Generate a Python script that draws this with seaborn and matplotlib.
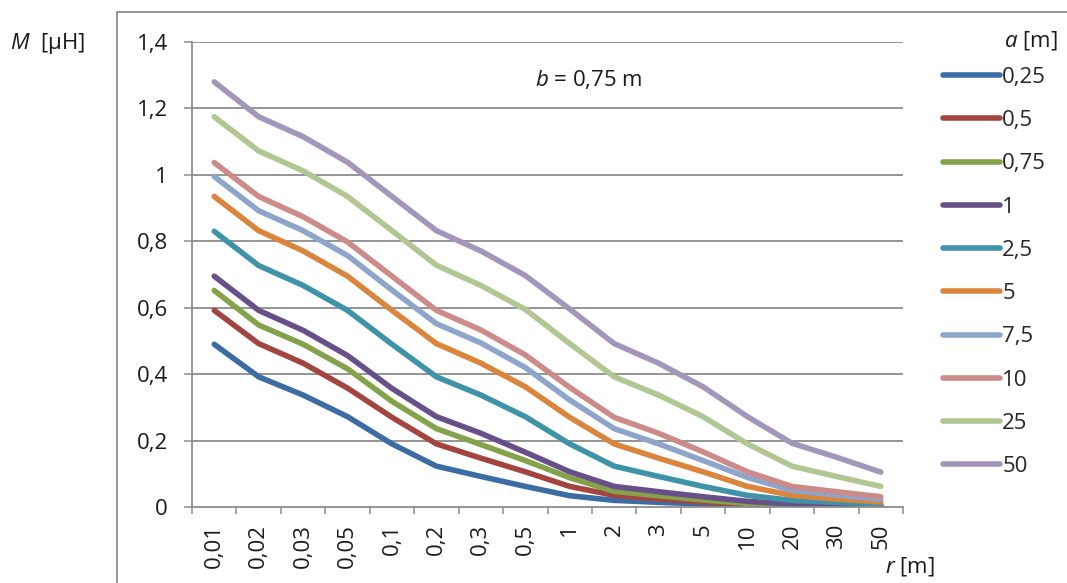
import numpy as np
import pandas as pd
import matplotlib
matplotlib.use("Agg")
import matplotlib.pyplot as plt
from matplotlib.patches import Rectangle
import seaborn as sns

# Distance categories r [m] (categorical x axis)
r_labels = ["0,01", "0,02", "0,03", "0,05", "0,1", "0,2", "0,3", "0,5",
            "1", "2", "3", "5", "10", "20", "30", "50"]

# Side length a [m] of each series
a_labels = ["0,25", "0,5", "0,75", "1", "2,5", "5", "7,5", "10", "25", "50"]

# Mutual inductance M [uH] for each a, one value per r category
m_a025 = [0.490, 0.392, 0.337, 0.272, 0.190, 0.123, 0.092, 0.062, 0.034, 0.020, 0.014, 0.009, 0.004, 0.002, 0.001, 0.001]
m_a05 = [0.592, 0.492, 0.433, 0.358, 0.270, 0.190, 0.147, 0.106, 0.062, 0.035, 0.024, 0.015, 0.008, 0.004, 0.003, 0.002]
m_a075 = [0.652, 0.548, 0.490, 0.416, 0.318, 0.236, 0.188, 0.140, 0.088, 0.047, 0.034, 0.021, 0.011, 0.005, 0.003, 0.002]
m_a1 = [0.695, 0.592, 0.532, 0.456, 0.357, 0.272, 0.222, 0.165, 0.106, 0.062, 0.046, 0.031, 0.017, 0.009, 0.006, 0.004]
m_a25 = [0.830, 0.727, 0.667, 0.592, 0.490, 0.392, 0.337, 0.272, 0.190, 0.123, 0.092, 0.062, 0.035, 0.020, 0.014, 0.009]
m_a5 = [0.935, 0.832, 0.771, 0.695, 0.592, 0.492, 0.433, 0.362, 0.270, 0.190, 0.147, 0.106, 0.062, 0.035, 0.024, 0.015]
m_a75 = [0.995, 0.892, 0.832, 0.757, 0.653, 0.552, 0.494, 0.420, 0.322, 0.236, 0.190, 0.140, 0.089, 0.050, 0.036, 0.023]
m_a10 = [1.037, 0.935, 0.874, 0.798, 0.695, 0.592, 0.533, 0.458, 0.360, 0.270, 0.222, 0.166, 0.106, 0.062, 0.046, 0.031]
m_a25b = [1.175, 1.072, 1.012, 0.935, 0.832, 0.728, 0.667, 0.595, 0.492, 0.392, 0.337, 0.272, 0.190, 0.123, 0.092, 0.062]
m_a50 = [1.280, 1.175, 1.115, 1.038, 0.935, 0.832, 0.771, 0.697, 0.596, 0.492, 0.433, 0.362, 0.272, 0.192, 0.150, 0.105]

series_values = [m_a025, m_a05, m_a075, m_a1, m_a25, m_a5, m_a75, m_a10, m_a25b, m_a50]

y_ticks = [0, 0.2, 0.4, 0.6, 0.8, 1.0, 1.2, 1.4]
y_tick_labels = ["0", "0,2", "0,4", "0,6", "0,8", "1", "1,2", "1,4"]

line_colors = ["#3C6CA4", "#A44441", "#84A24A", "#674F89", "#3E93A8",
               "#DB843C", "#8DA5CB", "#CC8A88", "#B0C791", "#A396BA"]

# Long-format table for seaborn
rows = []
for a, vals in zip(a_labels, series_values):
    for i, v in enumerate(vals):
        rows.append({"pos": i, "r": r_labels[i], "a": a, "M": v})
df = pd.DataFrame(rows)

sns.set_theme(style="white")
plt.rcParams["font.family"] = ["Open Sans", "DejaVu Sans"]
plt.rcParams["mathtext.fontset"] = "custom"
plt.rcParams["mathtext.rm"] = "Open Sans"
plt.rcParams["mathtext.it"] = "Open Sans:italic"

FS = 16
GRAY = "#8C8C8C"
TXT = "#1a1a1a"
W, H = 1067, 583

fig = plt.figure(figsize=(W / 100, H / 100), dpi=100)
ax = fig.add_axes([192 / W, 1 - 507 / H, (903 - 192) / W, (507 - 42) / H])

sns.lineplot(data=df, x="pos", y="M", hue="a", hue_order=a_labels,
             palette=line_colors, linewidth=4, ax=ax, legend=True,
             solid_capstyle="round", solid_joinstyle="round")

ax.set_xlim(-0.5, len(r_labels) - 0.5)
ax.set_ylim(0, 1.4)

# Horizontal gridlines
for yv in y_ticks[1:]:
    ax.axhline(yv, color=GRAY, lw=1.3, zorder=0)

# Y axis
ax.set_yticks(y_ticks)
ax.set_yticklabels(y_tick_labels, fontsize=FS, color=TXT)
ax.tick_params(axis="y", which="major", direction="out", length=5.5, width=1.1,
               color=GRAY, pad=12, left=True)

# X axis: tick marks between categories, labels at category centres
ax.set_xticks(np.arange(-0.5, len(r_labels), 1.0))
ax.set_xticklabels([])
ax.set_xticks(np.arange(len(r_labels)), minor=True)
ax.set_xticklabels(r_labels, minor=True, rotation=90, fontsize=FS,
                   color=TXT, ha="center", va="top")
ax.tick_params(axis="x", which="major", direction="out", length=5, width=1.1,
               color=GRAY, bottom=True)
ax.tick_params(axis="x", which="minor", length=0, pad=12)

ax.set_xlabel("")
ax.set_ylabel("")
for side in ["top", "right"]:
    ax.spines[side].set_visible(False)
for side in ["left", "bottom"]:
    ax.spines[side].set_color(GRAY)
    ax.spines[side].set_linewidth(1.3)

# Legend
handles, labels = ax.get_legend_handles_labels()
ax.legend(handles, labels, loc="upper left",
          bbox_to_anchor=(943 / W, 1 - 67 / H), bbox_transform=fig.transFigure,
          frameon=False, fontsize=FS, handlelength=2.55, handletextpad=0.12,
          labelspacing=1.0, borderpad=0, borderaxespad=0)
fig.text(1058 / W, 1 - 40 / H, "$a$ [m]", ha="right", va="center",
         fontsize=FS, color=TXT)

# Axis titles and annotation
fig.text(10 / W, 1 - 44 / H, "$M$  [\u03bcH]", ha="left", va="center",
         fontsize=FS, color=TXT)
fig.text(935 / W, 1 - 566 / H, "$r$ [m]", ha="right", va="center",
         fontsize=FS, color=TXT)
fig.text(589 / W, 1 - 80 / H, "$b$ = 0,75 m", ha="center", va="center",
         fontsize=FS, color=TXT)

# Chart-area frame
fig.patches.append(Rectangle((117 / W, -0.2), 1.0, (1 - 12 / H) + 0.2,
                             transform=fig.transFigure, fill=False,
                             edgecolor=GRAY, linewidth=1.3))

fig.savefig("out.png", dpi=100)
